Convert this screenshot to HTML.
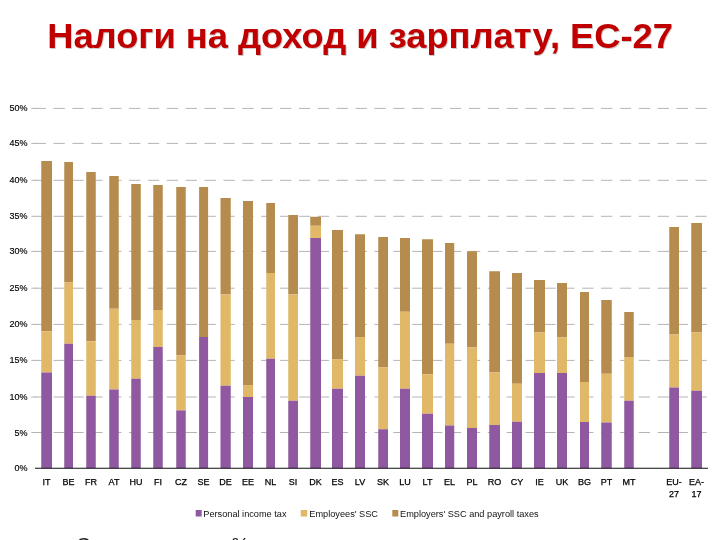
<!DOCTYPE html>
<html lang="ru">
<head>
<meta charset="utf-8">
<title>Налоги на доход и зарплату, ЕС-27</title>
<style>
html,body{margin:0;padding:0;background:#fff;}
body{width:720px;height:540px;overflow:hidden;position:relative;font-family:"Liberation Sans",sans-serif;}
svg{position:absolute;left:0;top:0;display:block;}
svg text{font-family:"Liberation Sans",sans-serif;}
.title{font-weight:bold;font-size:35px;fill:#c00000;}
.tshadow{font-weight:bold;font-size:35px;fill:#8c8c8c;}
.ax{font-size:9px;fill:#000;stroke:#000;stroke-width:0.15px;text-anchor:end;}
.cat{font-size:9px;fill:#000;stroke:#000;stroke-width:0.25px;text-anchor:middle;}
.leg{font-size:9.2px;fill:#111;}
.src{font-size:20px;fill:#222;}
</style>
</head>
<body>
<svg width="720" height="540" viewBox="0 0 720 540">
<rect x="0" y="0" width="720" height="540" fill="#ffffff"/>
<text class="tshadow" transform="translate(48.1,49.3) scale(1.037,1)" opacity="0.45">Налоги на доход и зарплату, ЕС-27</text>
<text class="title" transform="translate(47.2,48.2) scale(1.037,1)">Налоги на доход и зарплату, ЕС-27</text>
<g stroke="#b4b4b4" stroke-width="1" stroke-dasharray="11.3 7.58" fill="none">
<line x1="34.62" y1="432.50" x2="710" y2="432.50"/><line x1="31.25" y1="432.50" x2="36" y2="432.50" stroke-dasharray="none"/>
<line x1="34.62" y1="397.00" x2="710" y2="397.00"/><line x1="31.25" y1="397.00" x2="36" y2="397.00" stroke-dasharray="none"/>
<line x1="34.62" y1="360.40" x2="710" y2="360.40"/><line x1="31.25" y1="360.40" x2="36" y2="360.40" stroke-dasharray="none"/>
<line x1="34.62" y1="324.40" x2="710" y2="324.40"/><line x1="31.25" y1="324.40" x2="36" y2="324.40" stroke-dasharray="none"/>
<line x1="34.62" y1="288.20" x2="710" y2="288.20"/><line x1="31.25" y1="288.20" x2="36" y2="288.20" stroke-dasharray="none"/>
<line x1="34.62" y1="251.40" x2="710" y2="251.40"/><line x1="31.25" y1="251.40" x2="36" y2="251.40" stroke-dasharray="none"/>
<line x1="34.62" y1="216.30" x2="710" y2="216.30"/><line x1="31.25" y1="216.30" x2="36" y2="216.30" stroke-dasharray="none"/>
<line x1="34.62" y1="180.30" x2="710" y2="180.30"/><line x1="31.25" y1="180.30" x2="36" y2="180.30" stroke-dasharray="none"/>
<line x1="34.62" y1="143.40" x2="710" y2="143.40"/><line x1="31.25" y1="143.40" x2="36" y2="143.40" stroke-dasharray="none"/>
<line x1="34.62" y1="108.40" x2="710" y2="108.40"/><line x1="31.25" y1="108.40" x2="36" y2="108.40" stroke-dasharray="none"/>
</g>
<text class="ax" x="27.5" y="471.30">0%</text>
<text class="ax" x="27.5" y="435.50">5%</text>
<text class="ax" x="27.5" y="400.00">10%</text>
<text class="ax" x="27.5" y="363.40">15%</text>
<text class="ax" x="27.5" y="327.40">20%</text>
<text class="ax" x="27.5" y="291.20">25%</text>
<text class="ax" x="27.5" y="254.40">30%</text>
<text class="ax" x="27.5" y="219.30">35%</text>
<text class="ax" x="27.5" y="183.30">40%</text>
<text class="ax" x="27.5" y="146.40">45%</text>
<text class="ax" x="27.5" y="111.40">50%</text>
<g><rect x="41.25" y="161" width="10.75" height="170.25" fill="#b58c4e"/><rect x="41.25" y="331.25" width="10.75" height="41.25" fill="#e0b868"/><rect x="41.25" y="372.5" width="10.75" height="95.75" fill="#8f58a0"/></g>
<g><rect x="64.25" y="162" width="8.75" height="120.50" fill="#b58c4e"/><rect x="64.25" y="282.5" width="8.75" height="61.25" fill="#e0b868"/><rect x="64.25" y="343.75" width="8.75" height="124.50" fill="#8f58a0"/></g>
<g><rect x="86.25" y="172" width="9.50" height="169.25" fill="#b58c4e"/><rect x="86.25" y="341.25" width="9.50" height="54.50" fill="#e0b868"/><rect x="86.25" y="395.75" width="9.50" height="72.50" fill="#8f58a0"/></g>
<g><rect x="109.25" y="176" width="9.50" height="132.75" fill="#b58c4e"/><rect x="109.25" y="308.75" width="9.50" height="80.75" fill="#e0b868"/><rect x="109.25" y="389.5" width="9.50" height="78.75" fill="#8f58a0"/></g>
<g><rect x="131.25" y="184" width="9.50" height="136.00" fill="#b58c4e"/><rect x="131.25" y="320" width="9.50" height="58.75" fill="#e0b868"/><rect x="131.25" y="378.75" width="9.50" height="89.50" fill="#8f58a0"/></g>
<g><rect x="153.25" y="185" width="9.50" height="125.00" fill="#b58c4e"/><rect x="153.25" y="310" width="9.50" height="37.00" fill="#e0b868"/><rect x="153.25" y="347" width="9.50" height="121.25" fill="#8f58a0"/></g>
<g><rect x="176.25" y="187" width="9.50" height="168.50" fill="#b58c4e"/><rect x="176.25" y="355.5" width="9.50" height="54.90" fill="#e0b868"/><rect x="176.25" y="410.4" width="9.50" height="57.85" fill="#8f58a0"/></g>
<g><rect x="199.1" y="187" width="9.00" height="150.00" fill="#b58c4e"/><rect x="199.1" y="337" width="9.00" height="131.25" fill="#8f58a0"/></g>
<g><rect x="220.5" y="198" width="10.25" height="96.50" fill="#b58c4e"/><rect x="220.5" y="294.5" width="10.25" height="91.25" fill="#e0b868"/><rect x="220.5" y="385.75" width="10.25" height="82.50" fill="#8f58a0"/></g>
<g><rect x="243" y="201" width="10.00" height="184.00" fill="#b58c4e"/><rect x="243" y="385" width="10.00" height="12.00" fill="#e0b868"/><rect x="243" y="397" width="10.00" height="71.25" fill="#8f58a0"/></g>
<g><rect x="266.25" y="203" width="8.75" height="70.00" fill="#b58c4e"/><rect x="266.25" y="273" width="8.75" height="85.75" fill="#e0b868"/><rect x="266.25" y="358.75" width="8.75" height="109.50" fill="#8f58a0"/></g>
<g><rect x="288.25" y="215" width="9.75" height="79.50" fill="#b58c4e"/><rect x="288.25" y="294.5" width="9.75" height="106.25" fill="#e0b868"/><rect x="288.25" y="400.75" width="9.75" height="67.50" fill="#8f58a0"/></g>
<g><rect x="310.25" y="216.75" width="10.75" height="9.00" fill="#b58c4e"/><rect x="310.25" y="225.75" width="10.75" height="12.25" fill="#e0b868"/><rect x="310.25" y="238" width="10.75" height="230.25" fill="#8f58a0"/></g>
<g><rect x="332" y="230" width="11.00" height="129.50" fill="#b58c4e"/><rect x="332" y="359.5" width="11.00" height="29.25" fill="#e0b868"/><rect x="332" y="388.75" width="11.00" height="79.50" fill="#8f58a0"/></g>
<g><rect x="355" y="234.25" width="10.00" height="102.75" fill="#b58c4e"/><rect x="355" y="337" width="10.00" height="38.75" fill="#e0b868"/><rect x="355" y="375.75" width="10.00" height="92.50" fill="#8f58a0"/></g>
<g><rect x="378.25" y="237" width="9.75" height="130.50" fill="#b58c4e"/><rect x="378.25" y="367.5" width="9.75" height="61.75" fill="#e0b868"/><rect x="378.25" y="429.25" width="9.75" height="39.00" fill="#8f58a0"/></g>
<g><rect x="400" y="238" width="10.00" height="73.75" fill="#b58c4e"/><rect x="400" y="311.75" width="10.00" height="77.00" fill="#e0b868"/><rect x="400" y="388.75" width="10.00" height="79.50" fill="#8f58a0"/></g>
<g><rect x="422" y="239.25" width="11.00" height="135.00" fill="#b58c4e"/><rect x="422" y="374.25" width="11.00" height="39.50" fill="#e0b868"/><rect x="422" y="413.75" width="11.00" height="54.50" fill="#8f58a0"/></g>
<g><rect x="445" y="243" width="9.25" height="100.75" fill="#b58c4e"/><rect x="445" y="343.75" width="9.25" height="81.75" fill="#e0b868"/><rect x="445" y="425.5" width="9.25" height="42.75" fill="#8f58a0"/></g>
<g><rect x="467" y="251.25" width="10.00" height="96.25" fill="#b58c4e"/><rect x="467" y="347.5" width="10.00" height="80.50" fill="#e0b868"/><rect x="467" y="428" width="10.00" height="40.25" fill="#8f58a0"/></g>
<g><rect x="489.25" y="271.25" width="10.75" height="101.25" fill="#b58c4e"/><rect x="489.25" y="372.5" width="10.75" height="52.50" fill="#e0b868"/><rect x="489.25" y="425" width="10.75" height="43.25" fill="#8f58a0"/></g>
<g><rect x="512" y="273" width="10.00" height="110.75" fill="#b58c4e"/><rect x="512" y="383.75" width="10.00" height="38.00" fill="#e0b868"/><rect x="512" y="421.75" width="10.00" height="46.50" fill="#8f58a0"/></g>
<g><rect x="534" y="280" width="11.00" height="52.50" fill="#b58c4e"/><rect x="534" y="332.5" width="11.00" height="40.50" fill="#e0b868"/><rect x="534" y="373" width="11.00" height="95.25" fill="#8f58a0"/></g>
<g><rect x="557" y="283" width="10.00" height="54.50" fill="#b58c4e"/><rect x="557" y="337.5" width="10.00" height="35.50" fill="#e0b868"/><rect x="557" y="373" width="10.00" height="95.25" fill="#8f58a0"/></g>
<g><rect x="580" y="292" width="9.00" height="90.00" fill="#b58c4e"/><rect x="580" y="382" width="9.00" height="40.00" fill="#e0b868"/><rect x="580" y="422" width="9.00" height="46.25" fill="#8f58a0"/></g>
<g><rect x="601.25" y="300" width="10.50" height="73.75" fill="#b58c4e"/><rect x="601.25" y="373.75" width="10.50" height="48.75" fill="#e0b868"/><rect x="601.25" y="422.5" width="10.50" height="45.75" fill="#8f58a0"/></g>
<g><rect x="624.25" y="312" width="9.50" height="45.00" fill="#b58c4e"/><rect x="624.25" y="357" width="9.50" height="43.75" fill="#e0b868"/><rect x="624.25" y="400.75" width="9.50" height="67.50" fill="#8f58a0"/></g>
<g><rect x="669.25" y="227" width="9.75" height="107.50" fill="#b58c4e"/><rect x="669.25" y="334.5" width="9.75" height="53.00" fill="#e0b868"/><rect x="669.25" y="387.5" width="9.75" height="80.75" fill="#8f58a0"/></g>
<g><rect x="691.25" y="223" width="10.75" height="109.50" fill="#b58c4e"/><rect x="691.25" y="332.5" width="10.75" height="58.25" fill="#e0b868"/><rect x="691.25" y="390.75" width="10.75" height="77.50" fill="#8f58a0"/></g>
<line x1="35" y1="468.25" x2="708" y2="468.25" stroke="#111" stroke-width="1.2"/>
<text class="cat" x="46.62" y="485.2">IT</text>
<text class="cat" x="68.62" y="485.2">BE</text>
<text class="cat" x="91.00" y="485.2">FR</text>
<text class="cat" x="114.00" y="485.2">AT</text>
<text class="cat" x="136.00" y="485.2">HU</text>
<text class="cat" x="158.00" y="485.2">FI</text>
<text class="cat" x="181.00" y="485.2">CZ</text>
<text class="cat" x="203.60" y="485.2">SE</text>
<text class="cat" x="225.62" y="485.2">DE</text>
<text class="cat" x="248.00" y="485.2">EE</text>
<text class="cat" x="270.62" y="485.2">NL</text>
<text class="cat" x="293.12" y="485.2">SI</text>
<text class="cat" x="315.62" y="485.2">DK</text>
<text class="cat" x="337.50" y="485.2">ES</text>
<text class="cat" x="360.00" y="485.2">LV</text>
<text class="cat" x="383.12" y="485.2">SK</text>
<text class="cat" x="405.00" y="485.2">LU</text>
<text class="cat" x="427.50" y="485.2">LT</text>
<text class="cat" x="449.62" y="485.2">EL</text>
<text class="cat" x="472.00" y="485.2">PL</text>
<text class="cat" x="494.62" y="485.2">RO</text>
<text class="cat" x="517.00" y="485.2">CY</text>
<text class="cat" x="539.50" y="485.2">IE</text>
<text class="cat" x="562.00" y="485.2">UK</text>
<text class="cat" x="584.50" y="485.2">BG</text>
<text class="cat" x="606.50" y="485.2">PT</text>
<text class="cat" x="629.00" y="485.2">MT</text>
<text class="cat" x="674.12" y="485.0">EU-</text>
<text class="cat" x="674.12" y="496.6">27</text>
<text class="cat" x="696.62" y="485.0">EA-</text>
<text class="cat" x="696.62" y="496.6">17</text>
<rect x="195.7" y="510" width="6" height="6.5" fill="#8f58a0"/><text class="leg" x="203.3" y="516.7">Personal income tax</text>
<rect x="300.7" y="510" width="6.5" height="6.5" fill="#e0b868"/><text class="leg" x="309.3" y="516.7">Employees' SSC</text>
<rect x="392.3" y="510" width="6" height="6.5" fill="#b58c4e"/><text class="leg" x="400" y="516.7">Employers' SSC and payroll taxes</text>
<text class="src" x="76" y="551.5">Ставки налогов, %</text>
</svg>
</body>
</html>
